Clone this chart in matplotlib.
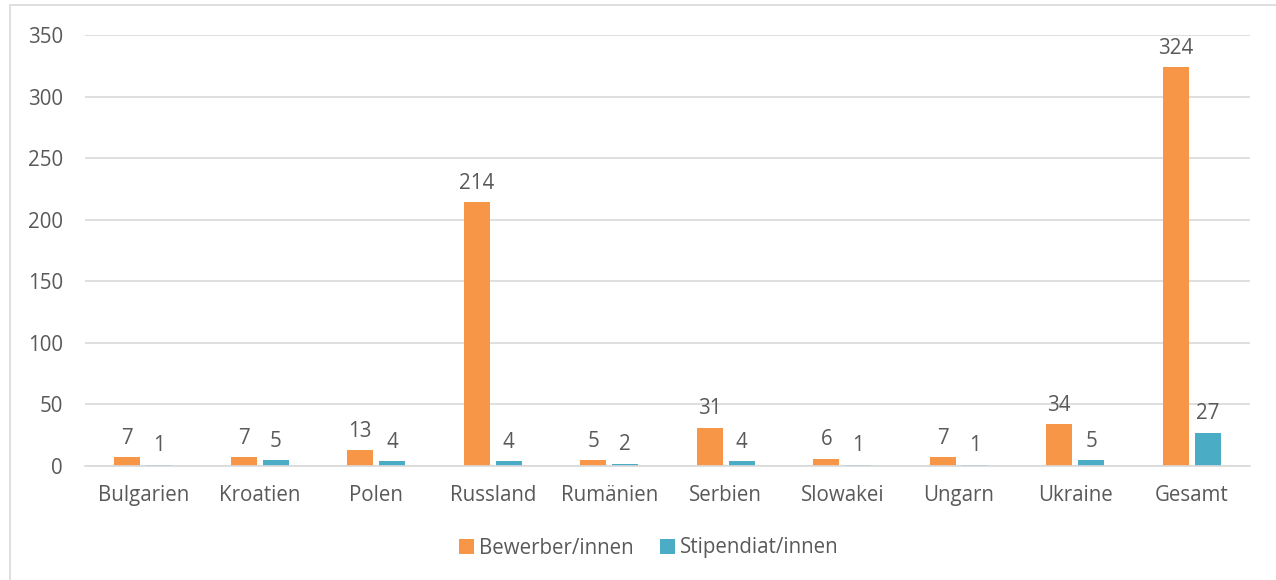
import matplotlib.pyplot as plt
import numpy as np
from matplotlib.patches import Rectangle

# data
laender = ['Bulgarien', 'Kroatien', 'Polen', 'Russland', 'Rumänien',
           'Serbien', 'Slowakei', 'Ungarn', 'Ukraine', 'Gesamt']
bewerber = [7, 7, 13, 214, 5, 31, 6, 7, 34, 324]
stipendiaten = [1, 5, 4, 4, 2, 4, 1, 1, 5, 27]

ORANGE = '#F79646'
TEAL = '#4BACC6'
GREY = '#595959'
FS = 14.8

plt.rcParams['font.family'] = ['Open Sans', 'DejaVu Sans']

fig = plt.figure(figsize=(12.76, 5.8), dpi=100)
ax = fig.add_axes([85/1276, 1 - 466/580, 1165/1276, 431/580])

# outer chart border
fig.patches.append(Rectangle((10/1276, -0.05), 1.1, 1 - 5/580 + 0.05,
                             transform=fig.transFigure, fill=False,
                             edgecolor='#D9D9D9', linewidth=1.2))

x = np.arange(len(laender))
w = 0.225
gap = 0.05
b1 = ax.bar(x - (w + gap) / 2, bewerber, w, color=ORANGE, label='Bewerber/innen')
b2 = ax.bar(x + (w + gap) / 2, stipendiaten, w, color=TEAL, label='Stipendiat/innen')

for bars in (b1, b2):
    for r in bars:
        ax.annotate(str(int(r.get_height())), (r.get_x() + r.get_width() / 2, r.get_height()),
                    xytext=(0, 6), textcoords='offset points', ha='center', va='bottom',
                    fontsize=FS, color=GREY)

ax.set_xlim(-0.5, len(laender) - 0.5)
ax.set_ylim(0, 350)
ax.set_yticks(range(0, 351, 50))
ax.set_xticks(x)
ax.set_xticklabels(laender)
ax.yaxis.grid(True, color='#D9D9D9', linewidth=1.2)
ax.set_axisbelow(True)
for s in ['top', 'right', 'left']:
    ax.spines[s].set_visible(False)
ax.spines['bottom'].set_color('#D9D9D9')
ax.spines['bottom'].set_linewidth(1.2)
ax.tick_params(axis='both', length=0, labelsize=FS, colors=GREY)
ax.tick_params(axis='x', pad=14)
ax.tick_params(axis='y', pad=16)

fig.legend(loc='center', bbox_to_anchor=(649/1276, 1 - 548/580), ncol=2, frameon=False,
           fontsize=FS, handlelength=0.7, handleheight=0.7, columnspacing=1.3,
           handletextpad=0.25, labelcolor=GREY)

fig.savefig('out.png', dpi=100)
